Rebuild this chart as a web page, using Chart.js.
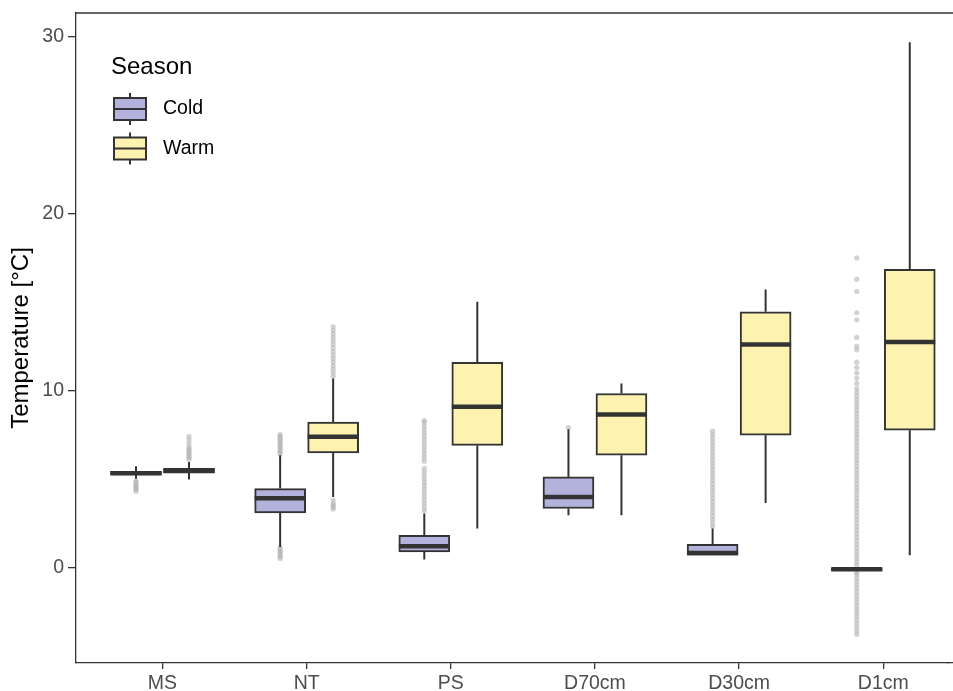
<!DOCTYPE html>
<html>
<head>
<meta charset="utf-8">
<script src="https://cdn.jsdelivr.net/npm/chart.js@4.4.1/dist/chart.umd.min.js"></script>
<style>
  html, body { margin: 0; padding: 0; background: #fff; }
  #wrap { width: 953px; height: 691px; }
</style>
</head>
<body>
<div id="wrap"><canvas id="chart"></canvas></div>
<script>
// ── Data ──
const SITES = ['MS', 'NT', 'PS', 'D70cm', 'D30cm', 'D1cm'];
const Y_TICKS = [0, 10, 20, 30];

// Cold season box stats (per site)
const coldLow  = [5.0, 1.15, 0.43, 2.94, 0.68, -0.2];
const coldQ1   = [5.22, 3.07, 0.87, 3.32, 0.68, -0.2];
const coldMed  = [5.32, 3.9, 1.19, 3.98, 0.8, -0.12];
const coldQ3   = [5.42, 4.45, 1.81, 5.11, 1.3, -0.05];
const coldHigh = [5.72, 6.34, 3.04, 7.8, 2.19, -0.05];

// Warm season box stats (per site)
const warmLow  = [4.96, 3.98, 2.19, 2.94, 3.64, 0.68];
const warmQ1   = [5.35, 6.47, 6.89, 6.34, 7.47, 7.75];
const warmMed  = [5.45, 7.38, 9.08, 8.64, 12.6, 12.75];
const warmQ3   = [5.6, 8.21, 11.6, 9.83, 14.45, 16.85];
const warmHigh = [5.96, 10.68, 15.02, 10.4, 15.72, 29.7];

const coldOutliers = [
    [4.9, 4.8, 4.7, 4.6, 4.5, 4.4, 4.3],
    [6.4, 6.5, 6.6, 6.7, 6.8, 6.9, 7.0, 7.1, 7.2, 7.3, 7.4, 7.5, 1.1, 1.0, 0.9, 0.8, 0.7, 0.6, 0.5],
    [3.2, 3.4, 3.6, 3.8, 4.0, 4.2, 4.4, 4.6, 4.8, 5.0, 5.2, 5.4, 5.6, 6.0, 6.2, 6.4, 6.6, 6.8, 7.0, 7.2, 7.4, 7.6, 7.8, 8.0, 8.2, 8.3],
    [7.9],
    [2.3, 2.5, 2.7, 2.9, 3.1, 3.3, 3.5, 3.7, 3.9, 4.1, 4.3, 4.5, 4.7, 4.9, 5.1, 5.3, 5.5, 5.7, 5.9, 6.1, 6.3, 6.5, 6.7, 6.9, 7.1, 7.3, 7.5, 7.7],
    [-3.8, -3.6, -3.4, -3.2, -3.0, -2.8, -2.6, -2.4, -2.2, -2.0, -1.8, -1.6, -1.4, -1.2, -1.0, -0.8, -0.6, -0.4, -0.3,
     0.1, 0.3, 0.5, 0.7, 0.9, 1.1, 1.3, 1.5, 1.7, 1.9, 2.1, 2.3, 2.5, 2.7, 2.9, 3.1, 3.3, 3.5, 3.7, 3.9, 4.1, 4.3, 4.5,
     4.7, 4.9, 5.1, 5.3, 5.5, 5.7, 5.9, 6.1, 6.3, 6.5, 6.7, 6.9, 7.1, 7.3, 7.5, 7.7, 7.9, 8.1, 8.3, 8.5, 8.7, 8.9, 9.1,
     9.3, 9.5, 9.7, 9.9, 10.1, 10.4, 10.7, 11.0, 11.3, 11.6, 12.3, 12.5, 13.0, 14.0, 14.4, 15.6, 16.3, 17.5]
];
const warmOutliers = [
    [6.1, 6.2, 6.3, 6.4, 6.5, 6.6, 6.7, 6.8, 7.0, 7.2, 7.4],
    [10.8, 11.0, 11.2, 11.4, 11.6, 11.8, 12.0, 12.2, 12.4, 12.6, 12.8, 13.0, 13.2, 13.4, 13.6, 3.8, 3.6, 3.5, 3.4, 3.3],
    [],
    [],
    [],
    []
];

// ── Style ──
const FONT = '"Liberation Sans", Arial, sans-serif';
const INK = '#333333';
const COLD_FILL = '#b3b2dc';
const WARM_FILL = '#fef2b0';
const DODGE = 0.184;

const boxes = (q1, q3) => SITES.map((s, i) => ({ x: i + 1, y: [q1[i], q3[i]] }));
const points = (list, dx) => list.flatMap((vals, i) => vals.map(v => ({ x: i + 1 + dx, y: v })));

const stats = {
    Cold: { low: coldLow, med: coldMed, q1: coldQ1, q3: coldQ3, high: coldHigh },
    Warm: { low: warmLow, med: warmMed, q1: warmQ1, q3: warmQ3, high: warmHigh }
};

// whiskers + medians on top of the bars
const whiskerPlugin = {
    id: 'whiskers',
    afterDatasetsDraw(chart) {
        const { ctx } = chart;
        const y = chart.scales.y;
        chart.data.datasets.forEach((ds, di) => {
            if (ds.type !== 'bar') return;
            const st = stats[ds.label];
            chart.getDatasetMeta(di).data.forEach((el, i) => {
                ctx.save();
                ctx.strokeStyle = INK;
                ctx.lineWidth = 2;
                ctx.beginPath();
                ctx.moveTo(el.x, y.getPixelForValue(st.q3[i]));
                ctx.lineTo(el.x, y.getPixelForValue(st.high[i]));
                ctx.moveTo(el.x, y.getPixelForValue(st.q1[i]));
                ctx.lineTo(el.x, y.getPixelForValue(st.low[i]));
                ctx.stroke();
                ctx.lineWidth = 4.5;
                ctx.beginPath();
                const ym = y.getPixelForValue(st.med[i]);
                ctx.moveTo(el.x - el.width / 2, ym);
                ctx.lineTo(el.x + el.width / 2, ym);
                ctx.stroke();
                ctx.restore();
            });
        });
    }
};

// top border of the panel, bottom axis line carried to the edge
const framePlugin = {
    id: 'frame',
    afterDraw(chart) {
        const { ctx, chartArea: a } = chart;
        const yb = Math.round(a.bottom - 0.65) + 0.65;
        ctx.save();
        ctx.strokeStyle = INK;
        ctx.lineWidth = 1.3;
        ctx.beginPath();
        ctx.moveTo(a.left, a.top);
        ctx.lineTo(chart.width, a.top);
        ctx.moveTo(a.right - 2, yb);
        ctx.lineTo(chart.width, yb);
        ctx.stroke();
        ctx.restore();
    }
};

// ggplot-style legend inside the panel
const legendPlugin = {
    id: 'seasonLegend',
    afterDraw(chart) {
        const { ctx, chartArea: a } = chart;
        ctx.save();
        ctx.fillStyle = '#000';
        ctx.font = '24px ' + FONT;
        ctx.textBaseline = 'alphabetic';
        ctx.fillText('Season', a.left + 35, 74);
        const rows = chart.data.datasets.filter(d => d.type === 'bar');
        rows.forEach((d, k) => {
            const cy = 109 + k * 39.5;
            const cx = a.left + 54;
            ctx.strokeStyle = INK;
            ctx.lineWidth = 2;
            ctx.beginPath();
            ctx.moveTo(cx, cy - 16);
            ctx.lineTo(cx, cy + 16);
            ctx.stroke();
            ctx.fillStyle = d.backgroundColor;
            ctx.fillRect(cx - 16, cy - 11, 32, 22);
            ctx.strokeRect(cx - 16, cy - 11, 32, 22);
            ctx.beginPath();
            ctx.moveTo(cx - 16, cy);
            ctx.lineTo(cx + 16, cy);
            ctx.stroke();
            ctx.fillStyle = '#000';
            ctx.font = '19.5px ' + FONT;
            ctx.textBaseline = 'middle';
            ctx.fillText(d.label, a.left + 87, cy);
        });
        ctx.restore();
    }
};

new Chart(document.getElementById('chart'), {
    data: {
        datasets: [
            {
                type: 'bar', label: 'Cold', data: boxes(coldQ1, coldQ3),
                backgroundColor: COLD_FILL, borderColor: INK, borderWidth: 2,
                borderSkipped: false, barThickness: 53, maxBarThickness: 51, order: 1
            },
            {
                type: 'bar', label: 'Warm', data: boxes(warmQ1, warmQ3),
                backgroundColor: WARM_FILL, borderColor: INK, borderWidth: 2,
                borderSkipped: false, barThickness: 53, maxBarThickness: 51, order: 1
            },
            {
                type: 'scatter', label: 'Cold outliers', data: points(coldOutliers, -DODGE),
                pointRadius: 2.6, pointBorderWidth: 0, backgroundColor: 'rgba(180,180,180,0.6)', order: 2
            },
            {
                type: 'scatter', label: 'Warm outliers', data: points(warmOutliers, DODGE),
                pointRadius: 2.6, pointBorderWidth: 0, backgroundColor: 'rgba(180,180,180,0.6)', order: 2
            }
        ]
    },
    options: {
        responsive: true, maintainAspectRatio: false,
        animation: false,
        layout: { padding: { top: 13, left: 0, right: 0, bottom: 0 } },
        plugins: { legend: { display: false }, tooltip: { enabled: false } },
        scales: {
            x: {
                type: 'linear', min: 0.4, max: 6.456, offset: false,
                grid: { display: true, offset: false, drawOnChartArea: false, drawTicks: true, tickLength: 6, color: INK, lineWidth: 1.3 },
                border: { display: true, color: INK, width: 1.3 },
                ticks: {
                    color: '#4d4d4d', padding: 3, maxRotation: 0, autoSkip: false,
                    font: { family: FONT, size: 19.5 },
                    callback: v => SITES[v - 1]
                },
                afterBuildTicks: s => { s.ticks = SITES.map((c, i) => ({ value: i + 1 })); },
                afterFit: s => { s.height = 28; s.paddingLeft = 0; s.paddingRight = 0; }
            },
            y: {
                min: -5.42, max: 31.36,
                grid: { display: true, drawOnChartArea: false, drawTicks: true, tickLength: 8, color: INK, lineWidth: 1.3 },
                border: { display: true, color: INK, width: 1.3 },
                ticks: { color: '#4d4d4d', padding: 4, font: { family: FONT, size: 19.5 } },
                afterBuildTicks: s => { s.ticks = Y_TICKS.map(v => ({ value: v })); },
                afterFit: s => { s.width = 76; s.paddingTop = 0; s.paddingBottom = 0; },
                title: {
                    display: true, text: 'Temperature [°C]', color: '#000',
                    font: { family: FONT, size: 24 }, padding: { top: 7, bottom: 0 }
                }
            }
        }
    },
    plugins: [whiskerPlugin, framePlugin, legendPlugin]
});
</script>
</body>
</html>
